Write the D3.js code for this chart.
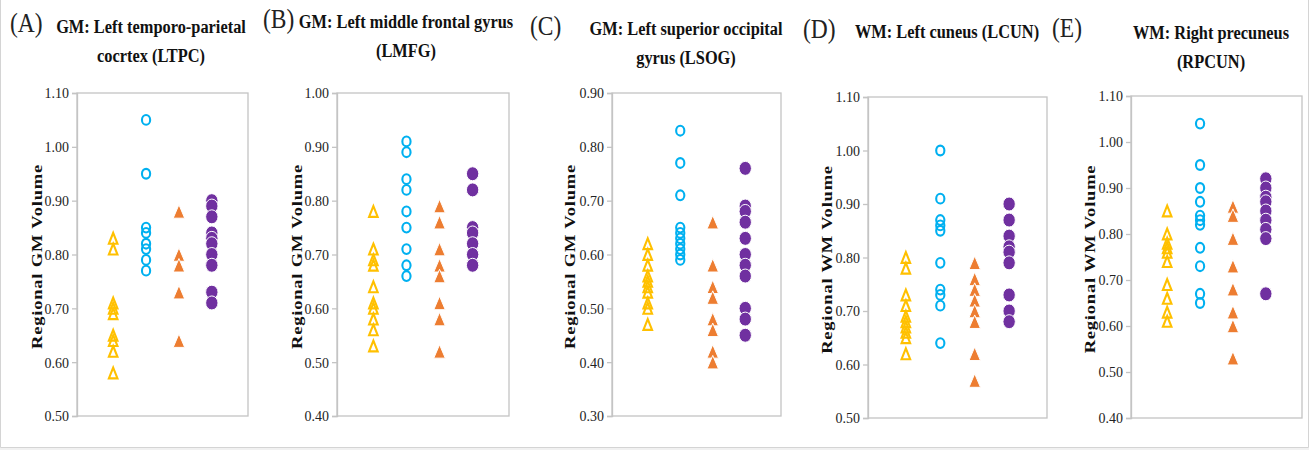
<!DOCTYPE html>
<html>
<head>
<meta charset="utf-8">
<script src="https://cdn.jsdelivr.net/npm/d3@7"></script>
<style>
  html, body { margin: 0; padding: 0; background: #fff; }
  svg, svg text { font-family: "Liberation Serif", "DejaVu Serif", "Times New Roman", serif !important; }
  svg { display: block; }
</style>
</head>
<body>
<svg id="chart" width="1309" height="450"></svg>
<script>
// ---- data -------------------------------------------------------------------
const groups      = ['Group 1', 'Group 2', 'Group 3', 'Group 4'];
const groupColors = ['#FFC000', '#00B0F0', '#ED7D31', '#7030A0'];
const groupShapes = ['triangleOpen', 'circleOpen', 'triangle', 'circle'];

const panelTags   = ['(A)', '(B)', '(C)', '(D)', '(E)'];
const panelTitles = [
  ['GM: Left temporo-parietal', 'cocrtex (LTPC)'],
  ['GM: Left middle frontal gyrus', '(LMFG)'],
  ['GM: Left superior occipital', 'gyrus (LSOG)'],
  ['WM: Left cuneus (LCUN)'],
  ['WM: Right precuneus', '(RPCUN)']
];
const yTitles  = ['Regional GM Volume', 'Regional GM Volume', 'Regional GM Volume',
                  'Regional WM Volume', 'Regional WM Volume'];
const yDomains = [[0.5, 1.1], [0.4, 1.0], [0.3, 0.9], [0.5, 1.1], [0.4, 1.1]];

// one array per group, values listed top to bottom (drawing order)
const ltpc = [
  [0.83, 0.81, 0.71, 0.70, 0.69, 0.65, 0.64, 0.62, 0.58],
  [1.05, 0.95, 0.85, 0.84, 0.82, 0.81, 0.79, 0.77],
  [0.88, 0.80, 0.78, 0.73, 0.64],
  [0.90, 0.89, 0.87, 0.84, 0.83, 0.82, 0.80, 0.78, 0.73, 0.71]
];
const lmfg = [
  [0.78, 0.71, 0.69, 0.68, 0.64, 0.61, 0.60, 0.58, 0.56, 0.53],
  [0.91, 0.89, 0.84, 0.82, 0.78, 0.75, 0.71, 0.68, 0.66],
  [0.79, 0.76, 0.71, 0.68, 0.66, 0.61, 0.58, 0.52],
  [0.85, 0.82, 0.75, 0.74, 0.72, 0.70, 0.68]
];
const lsog = [
  [0.62, 0.60, 0.58, 0.56, 0.55, 0.54, 0.53, 0.51, 0.50, 0.47],
  [0.83, 0.77, 0.71, 0.65, 0.64, 0.63, 0.62, 0.61, 0.60, 0.59],
  [0.66, 0.58, 0.54, 0.52, 0.48, 0.46, 0.42, 0.40],
  [0.76, 0.69, 0.68, 0.66, 0.63, 0.60, 0.58, 0.56, 0.50, 0.48, 0.45]
];
const lcun = [
  [0.80, 0.78, 0.73, 0.71, 0.69, 0.68, 0.67, 0.66, 0.65, 0.62],
  [1.00, 0.91, 0.87, 0.86, 0.85, 0.79, 0.74, 0.73, 0.71, 0.64],
  [0.79, 0.76, 0.74, 0.72, 0.70, 0.68, 0.62, 0.57],
  [0.90, 0.87, 0.84, 0.82, 0.81, 0.79, 0.73, 0.70, 0.68]
];
const rpcun = [
  [0.85, 0.80, 0.78, 0.77, 0.76, 0.74, 0.69, 0.66, 0.63, 0.61],
  [1.04, 0.95, 0.90, 0.87, 0.84, 0.83, 0.82, 0.77, 0.73, 0.67, 0.65],
  [0.86, 0.84, 0.79, 0.73, 0.68, 0.63, 0.60, 0.53],
  [0.92, 0.90, 0.88, 0.87, 0.85, 0.83, 0.81, 0.79, 0.67]
];
const panelData = [ltpc, lmfg, lsog, lcun, rpcun];

// ---- layout (pixels, not data) ---------------------------------------------
const boxes = [
  { x0: 77,   x1: 248,  y0: 93, y1: 416, tagX: 10,   tagY: 32, titleX: 151,  titleY: 33, yLabX: 37 },
  { x0: 337,  x1: 509,  y0: 93, y1: 416, tagX: 263,  tagY: 28, titleX: 406,  titleY: 28, yLabX: 297 },
  { x0: 612,  x1: 781,  y0: 93, y1: 416, tagX: 530,  tagY: 35, titleX: 686,  titleY: 35, yLabX: 570 },
  { x0: 868,  x1: 1047, y0: 97, y1: 418, tagX: 803,  tagY: 38, titleX: 947,  titleY: 38, yLabX: 827 },
  { x0: 1131, x1: 1302, y0: 96, y1: 418, tagX: 1052, tagY: 37, titleX: 1211, titleY: 39, yLabX: 1090 }
];
const SQUEEZE = 0.84;   // the source figure is horizontally compressed
const SERIF = '"Liberation Serif", "DejaVu Serif", "Times New Roman", serif';

const svg = d3.select('#chart');

// outer frame
svg.append('rect').attr('x', 0).attr('y', 447).attr('width', 1309).attr('height', 3).attr('fill', '#f1f1f1');
svg.append('path').attr('fill', 'none').attr('stroke', '#d4d4d4').attr('stroke-width', 1)
  .attr('d', 'M0.5,0 V447.5 H1308.5 V0');

// ---- helpers ---------------------------------------------------------------
function triPath(cx, cy, w, h) {
  const p = d3.path();
  p.moveTo(cx, cy - h / 2);
  p.lineTo(cx + w / 2, cy + h / 2);
  p.lineTo(cx - w / 2, cy + h / 2);
  p.closePath();
  return p.toString();
}

function drawMarkers(g, shape, color, cx, vals, y) {
  const sel = g.selectAll(null).data(vals);
  if (shape === 'triangleOpen') {
    sel.enter().append('path')
      .attr('d', d => triPath(cx, y(d), 8.6, 10.8))
      .attr('fill', 'none').attr('stroke', color).attr('stroke-width', 2.1);
  } else if (shape === 'triangle') {
    sel.enter().append('path')
      .attr('d', d => triPath(cx, y(d), 11.5, 13.5))
      .attr('fill', color).attr('stroke', '#fff').attr('stroke-width', 1);
  } else if (shape === 'circleOpen') {
    sel.enter().append('ellipse')
      .attr('cx', cx).attr('cy', d => y(d)).attr('rx', 4.1).attr('ry', 4.9)
      .attr('fill', 'none').attr('stroke', color).attr('stroke-width', 2.1);
  } else {
    sel.enter().append('ellipse')
      .attr('cx', cx).attr('cy', d => y(d)).attr('rx', 6.2).attr('ry', 7)
      .attr('fill', color).attr('stroke', '#fff').attr('stroke-width', 1);
  }
}

// ---- panels ----------------------------------------------------------------
panelData.forEach((data, i) => {
  const b = boxes[i];
  const g = svg.append('g');

  const y = d3.scaleLinear().domain(yDomains[i]).range([b.y1, b.y0]);
  const x = d3.scalePoint().domain(groups).range([b.x0, b.x1]).padding(1.1);
  const ticks = d3.range(yDomains[i][0], yDomains[i][1] + 0.001, 0.1);

  // panel tag
  g.append('text')
    .attr('transform', `translate(${b.tagX},${b.tagY}) scale(${SQUEEZE},1)`)
    .attr('font-size', 28).attr('fill', '#222')
    .text(panelTags[i]);

  // title lines
  panelTitles[i].forEach((line, k) => {
    g.append('text')
      .attr('transform', `translate(${b.titleX},${b.titleY + k * 29}) scale(${SQUEEZE},1)`)
      .attr('text-anchor', 'middle').attr('font-size', 19.5).attr('font-weight', 'bold')
      .attr('fill', '#111')
      .text(line);
  });

  // y title
  g.append('text')
    .attr('transform', `translate(${b.yLabX},${(b.y0 + b.y1) / 2 + 2}) scale(${SQUEEZE},1) rotate(-90)`)
    .attr('text-anchor', 'middle').attr('dy', '0.35em')
    .attr('font-size', 18.5).attr('font-weight', 'bold').attr('letter-spacing', 0.8)
    .attr('fill', '#111')
    .text(yTitles[i]);

  // plot frame
  g.append('rect')
    .attr('x', b.x0).attr('y', b.y0)
    .attr('width', b.x1 - b.x0).attr('height', b.y1 - b.y0)
    .attr('fill', 'none').attr('stroke', '#c4c4c4').attr('stroke-width', 1.3);

  // y axis
  const axis = g.append('g').attr('transform', `translate(${b.x0},0)`)
    .call(d3.axisLeft(y).tickValues(ticks).tickFormat(d3.format('.2f'))
      .tickSize(5).tickPadding(4));
  axis.attr('font-family', SERIF).attr('font-size', 15.5);
  axis.select('.domain').attr('stroke', '#c4c4c4').attr('stroke-width', 1.3);
  axis.selectAll('.tick line').attr('stroke', '#c4c4c4').attr('stroke-width', 1.3);
  axis.selectAll('.tick text')
    .attr('transform', 'scale(0.9,1)')
    .attr('fill', '#222');

  // markers
  data.forEach((vals, j) => {
    drawMarkers(g, groupShapes[j], groupColors[j], x(groups[j]), vals, y);
  });
});
</script>
</body>
</html>
